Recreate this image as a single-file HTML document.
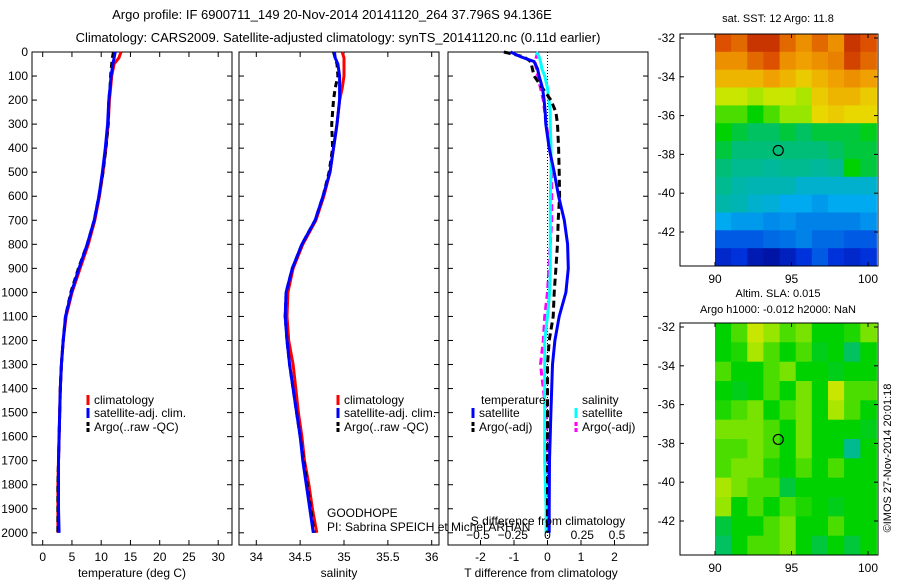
<!DOCTYPE html>
<html><head><meta charset="utf-8"><style>
body{margin:0;background:#fff;}
svg{display:block;font-family:"Liberation Sans",sans-serif;}
</style></head><body>
<svg id="fig" width="900" height="580" viewBox="0 0 900 580">
<text x="332" y="19" font-size="13" text-anchor="middle">Argo profile: IF 6900711_149 20-Nov-2014 20141120_264 37.796S 94.136E</text>
<text x="338" y="42" font-size="13" text-anchor="middle">Climatology: CARS2009. Satellite-adjusted climatology: synTS_20141120.nc (0.11d earlier)</text>
</svg>
<script>
const depths=[0,25,50,100,150,200,300,400,500,600,700,800,900,1000,1100,1200,1300,1400,1500,1600,1700,1800,1900,2000];
const tClim=[13.4,13.0,12.2,11.8,11.6,11.4,11.2,10.8,10.3,9.7,8.9,7.8,6.4,5.0,4.0,3.5,3.2,3.0,2.9,2.8,2.7,2.6,2.6,2.6];
const tSatClim=[12.4,12.2,12.0,11.7,11.5,11.3,11.1,10.7,10.2,9.6,8.8,7.6,6.2,4.9,3.9,3.5,3.2,3.0,2.9,2.8,2.7,2.7,2.7,2.8];
const tArgo=[12.1,11.9,11.8,11.6,11.5,11.3,11.2,10.8,10.3,9.6,8.8,7.6,6.1,4.8,3.9,3.5,3.2,3.0,2.9,2.8,2.7,2.6,2.6,2.6];
const sClim=[34.98,35.0,35.0,35.0,34.98,34.95,34.92,34.88,34.84,34.77,34.68,34.53,34.42,34.36,34.35,34.37,34.42,34.45,34.48,34.52,34.55,34.6,34.64,34.69];
const sSatClim=[34.89,34.9,34.93,34.95,34.95,34.95,34.92,34.88,34.84,34.76,34.67,34.52,34.41,34.34,34.33,34.35,34.38,34.42,34.46,34.5,34.53,34.57,34.61,34.65];
const sArgo=[34.88,34.9,34.92,34.93,34.9,34.88,34.86,34.87,34.83,34.76,34.67,34.52,34.41,34.34,34.33,34.35,34.38,34.42,34.46,34.5,34.54,34.58,34.62,34.66];
const dDepths=[0,20,40,70,100,150,200,250,300,400,500,600,700,800,900,1000,1100,1200,1300,1500,1700,1900,2000];
const dtSat=[-1.1,-0.8,-0.4,-0.3,-0.25,-0.15,-0.1,-0.07,-0.05,0.05,0.2,0.33,0.5,0.6,0.62,0.55,0.35,0.22,0.15,0.1,0.06,0.05,0.05];
const dtArgo=[-1.3,-0.7,-0.5,-0.45,-0.4,-0.15,0.1,0.25,0.3,0.33,0.35,0.36,0.32,0.3,0.25,0.2,0.17,0.05,0.0,0.0,0.0,0.0,0.0];
const dsSat=[-0.08,-0.06,-0.05,-0.04,-0.02,0.0,0.01,0.02,0.02,0.025,0.025,0.02,0.02,0.02,0.02,0.015,0.0,-0.02,-0.02,-0.02,-0.02,-0.01,-0.01];
const dsArgo=[-0.07,-0.08,-0.09,-0.08,-0.07,-0.05,-0.03,-0.02,-0.01,0.02,0.03,0.03,0.03,0.02,0.01,0.0,-0.02,-0.03,-0.05,-0.01,0.0,0.0,0.01];
const sstGrid=[
[0.88,0.85,0.92,0.92,0.85,0.8,0.85,0.8,0.92,0.88],
[0.8,0.8,0.85,0.88,0.8,0.78,0.8,0.82,0.9,0.85],
[0.75,0.75,0.75,0.78,0.75,0.72,0.75,0.78,0.8,0.78],
[0.65,0.65,0.62,0.65,0.65,0.62,0.72,0.75,0.75,0.72],
[0.55,0.55,0.5,0.55,0.6,0.6,0.7,0.72,0.7,0.7],
[0.5,0.45,0.42,0.42,0.45,0.42,0.45,0.45,0.45,0.48],
[0.45,0.4,0.4,0.4,0.4,0.4,0.4,0.42,0.45,0.45],
[0.4,0.38,0.38,0.37,0.38,0.38,0.37,0.38,0.5,0.45],
[0.38,0.36,0.35,0.35,0.35,0.33,0.33,0.33,0.33,0.33],
[0.36,0.35,0.33,0.32,0.3,0.3,0.28,0.3,0.3,0.3],
[0.3,0.28,0.28,0.26,0.27,0.25,0.25,0.25,0.25,0.27],
[0.2,0.2,0.2,0.22,0.23,0.25,0.22,0.22,0.2,0.2],
[0.12,0.15,0.08,0.06,0.1,0.15,0.2,0.15,0.12,0.15]];
const slaGrid=[
[0.5,0.55,0.65,0.6,0.55,0.58,0.5,0.5,0.52,0.58],
[0.5,0.52,0.62,0.55,0.5,0.55,0.48,0.5,0.42,0.5],
[0.55,0.5,0.5,0.55,0.58,0.5,0.5,0.48,0.5,0.5],
[0.5,0.48,0.5,0.55,0.5,0.58,0.5,0.65,0.55,0.55],
[0.52,0.55,0.58,0.5,0.55,0.58,0.5,0.62,0.55,0.5],
[0.58,0.58,0.58,0.55,0.5,0.58,0.5,0.5,0.5,0.48],
[0.55,0.55,0.58,0.55,0.5,0.58,0.5,0.5,0.38,0.5],
[0.55,0.58,0.58,0.52,0.5,0.55,0.5,0.55,0.5,0.5],
[0.62,0.58,0.55,0.55,0.45,0.5,0.5,0.5,0.5,0.5],
[0.6,0.5,0.55,0.5,0.55,0.52,0.5,0.48,0.5,0.5],
[0.45,0.5,0.5,0.55,0.58,0.5,0.5,0.55,0.5,0.5],
[0.42,0.5,0.55,0.55,0.58,0.5,0.45,0.5,0.45,0.5]];
const depthTicks=[0,100,200,300,400,500,600,700,800,900,1000,1100,1200,1300,1400,1500,1600,1700,1800,1900,2000];
const tTicks=[0,5,10,15,20,25,30];
const sTicks=[34,34.5,35,35.5,36];
const dtTicks=[-2,-1,0,1,2];
const dsTicks=[-0.5,-0.25,0,0.25,0.5];
const latTicks=[-32,-34,-36,-38,-40,-42];
const lonTicks=[90,95,100];
const argoLat=-37.796, argoLon=94.136;

const NS='http://www.w3.org/2000/svg';
const svg=document.getElementById('fig');
function mk(tag,attrs,parent){const e=document.createElementNS(NS,tag);for(const k in attrs)e.setAttribute(k,attrs[k]);(parent||svg).appendChild(e);return e;}
function txt(x,y,s,size,anchor,parent){const t=mk('text',{x:x,y:y,'font-size':size||12,'text-anchor':anchor||'middle'},parent);t.textContent=s;return t;}

const top0=52,bot=545;
const yD=d=>top0+d*0.2404;
const xT=v=>42.7+5.85*v;
const xS=v=>256.3+87.7*(v-34);
const xDT=v=>547.5+33.5*v;
const xDS=v=>547.5+139*v;

function box(x0,x1,name){const r=mk('rect',{x:x0,y:top0,width:x1-x0,height:bot-top0,fill:'none',stroke:'#000','stroke-width':1});}
function yticks(x0,x1,labels){depthTicks.forEach(d=>{const y=yD(d);mk('line',{x1:x0,y1:y,x2:x0+5,y2:y,stroke:'#000'});mk('line',{x1:x1,y1:y,x2:x1-5,y2:y,stroke:'#000'});if(labels){const t=txt(28,y+4,String(d),12,'end');}});}
function xticks(ticks,fx,ly,fmt,topTicks){ticks.forEach(v=>{const x=fx(v);mk('line',{x1:x,y1:bot,x2:x,y2:bot-5,stroke:'#000'});if(topTicks)mk('line',{x1:x,y1:top0,x2:x,y2:top0+5,stroke:'#000'});const t=txt(x,ly,fmt?fmt(v):String(v),12);});}
function line(xs,ds,fx,color,dash,name){const pts=xs.map((v,i)=>fx(v).toFixed(1)+','+yD(ds[i]).toFixed(1)).join(' ');const p=mk('polyline',{points:pts,fill:'none',stroke:color,'stroke-width':3});if(dash)p.setAttribute('stroke-dasharray',dash);}
function legItem(x,y,color,dash,label,name){const l=mk('line',{x1:x,y1:y-9,x2:x,y2:y+1,stroke:color,'stroke-width':3});if(dash)l.setAttribute('stroke-dasharray',dash);const t=txt(x+6,y,label,12,'start');}

// Panel 1 temperature
box(32,232,'temperature-axes');yticks(32,232,true);
xticks(tTicks,xT,561,null,true);
let t=txt(132,577,'temperature (deg C)',12);
line(tClim,depths,xT,'#f00',null,'temp-climatology-line');
line(tArgo,depths,xT,'#000','6,4','temp-argo-line');
line(tSatClim,depths,xT,'#00f',null,'temp-satellite-line');
legItem(88,404,'#f00',null,'climatology','legend-climatology');
legItem(88,417,'#00f',null,'satellite-adj. clim.','legend-satellite');
legItem(88,431,'#000','4,2','Argo(..raw -QC)','legend-argo');

// Panel 2 salinity
box(239,439,'salinity-axes');yticks(239,439,false);
xticks(sTicks,xS,561,null,true);
t=txt(339,577,'salinity',12);
line(sClim,depths,xS,'#f00',null,'sal-climatology-line');
line(sArgo,depths,xS,'#000','6,4','sal-argo-line');
line(sSatClim,depths,xS,'#00f',null,'sal-satellite-line');
legItem(338,404,'#f00',null,'climatology','legend2-climatology');
legItem(338,417,'#00f',null,'satellite-adj. clim.','legend2-satellite');
legItem(338,431,'#000','4,2','Argo(..raw -QC)','legend2-argo');

// Panel 3 differences
box(448,648,'difference-axes');yticks(448,648,false);
mk('line',{x1:xDT(0),y1:top0,x2:xDT(0),y2:bot,stroke:'#000','stroke-dasharray':'1,2'});
xticks(dtTicks,xDT,561,null,false);
line(dsArgo,dDepths,xDS,'#f0f','7,4','sal-diff-argo-line');
line(dsSat,dDepths,xDS,'#0ff',null,'sal-diff-satellite-line');
line(dtArgo,dDepths,xDT,'#000','7,4','temp-diff-argo-line');
line(dtSat,dDepths,xDT,'#00f',null,'temp-diff-satellite-line');
dsTicks.forEach(v=>{const t=txt(xDS(v),539,String(v).replace('-','−'),12);});
t=txt(548,525,'S difference from climatology',12);
t=txt(541,577,'T difference from climatology',12);
t=txt(481,404,'temperature',12,'start');
legItem(473,417,'#00f',null,'satellite','legend-temp-satellite');
legItem(473,431,'#000','4,2','Argo(-adj)','legend-temp-argo');
t=txt(582,404,'salinity',12,'start');
legItem(576,417,'#0ff',null,'satellite','legend-sal-satellite');
legItem(576,431,'#f0f','4,2','Argo(-adj)','legend-sal-argo');
t=txt(327,517,'GOODHOPE',12,'start');
t=txt(327,531,'PI: Sabrina SPEICH et Michel ARHAN',12,'start');

// Maps
const stops=[[0,[0,0,130]],[0.15,[0,50,220]],[0.3,[0,170,240]],[0.4,[0,190,120]],[0.5,[0,210,0]],[0.6,[150,230,0]],[0.68,[230,230,0]],[0.78,[240,160,0]],[0.88,[220,80,0]],[1,[160,0,0]]];
function cmap(v){for(let i=1;i<stops.length;i++){if(v<=stops[i][0]){const a=stops[i-1],b=stops[i],f=(v-a[0])/(b[0]-a[0]);return 'rgb('+a[1].map((c,k)=>Math.round(c+f*(b[1][k]-c))).join(',')+')';}}return 'rgb(160,0,0)';}
function map(y0,grid,name,title1,title2){
  const x0=680,x1=878,y1=y0+232;
  const xL=v=>715+15.3*(v-90);
  const yL=v=>y0+4+19.4*(-32-v);
  const latTop=-32+4/19.4, latBot=-32-(228/19.4);
  const lonL=90, lonR=100.55;
  const g=mk('g',{});
  const nr=grid.length,nc=grid[0].length;
  grid.forEach((row,r)=>row.forEach((v,c)=>{
    const la0=latTop+(latBot-latTop)*r/nr, la1=latTop+(latBot-latTop)*(r+1)/nr;
    const lo0=lonL+(lonR-lonL)*c/nc, lo1=lonL+(lonR-lonL)*(c+1)/nc;
    mk('rect',{x:xL(lo0).toFixed(1),y:yL(la0).toFixed(1),width:(xL(lo1)-xL(lo0)+0.5).toFixed(1),height:(yL(la1)-yL(la0)+0.5).toFixed(1),fill:cmap(v)},g);
  }));
  mk('rect',{x:x0,y:y0,width:x1-x0,height:y1-y0,fill:'none',stroke:'#000'});
  latTicks.forEach(v=>{const y=yL(v);mk('line',{x1:x0,y1:y,x2:x0+4,y2:y,stroke:'#000'});mk('line',{x1:x1,y1:y,x2:x1-4,y2:y,stroke:'#000'});const t=txt(675,y+4,String(v),12,'end');});
  lonTicks.forEach(v=>{const x=xL(v);mk('line',{x1:x,y1:y1,x2:x,y2:y1-4,stroke:'#000'});mk('line',{x1:x,y1:y0,x2:x,y2:y0+4,stroke:'#000'});const t=txt(x,y1+17,String(v),12);});
  const c=mk('circle',{cx:xL(argoLon),cy:yL(argoLat),r:5,fill:'none',stroke:'#000','stroke-width':1.2});
  let t=txt(778,y0-12+(title2?-14:0),title1,11);
  if(title2){t=txt(778,y0-10,title2,11);}
}
map(34,sstGrid,'sst-map','sat. SST: 12 Argo: 11.8');
map(323,slaGrid,'sla-map','Altim. SLA: 0.015','Argo h1000: -0.012 h2000: NaN');
t=txt(0,0,'©IMOS 27-Nov-2014 20:01:18',11);t.setAttribute('transform','translate(891,458) rotate(-90)');


</script>
</body></html>
